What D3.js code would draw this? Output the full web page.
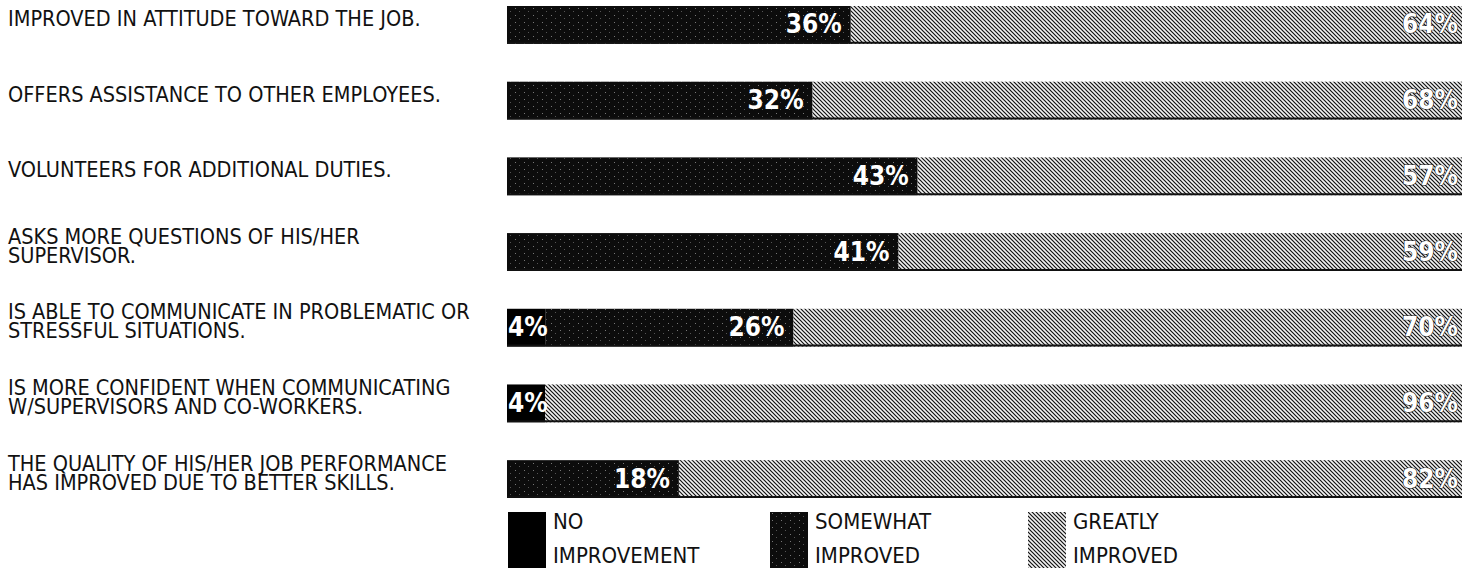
<!DOCTYPE html>
<html><head><meta charset="utf-8">
<script src="https://cdn.jsdelivr.net/npm/d3@7"></script>
<style>
html,body{margin:0;padding:0;background:#fff;}
svg text{font-family:"Liberation Sans Narrow","DejaVu Sans Condensed","Roboto",sans-serif;}
</style></head>
<body><svg id="chart" width="1466" height="575"></svg>
<script>
const categories = [
  ["IMPROVED IN ATTITUDE TOWARD THE JOB."],
  ["OFFERS ASSISTANCE TO OTHER EMPLOYEES."],
  ["VOLUNTEERS FOR ADDITIONAL DUTIES."],
  ["ASKS MORE QUESTIONS OF HIS/HER", "SUPERVISOR."],
  ["IS ABLE TO COMMUNICATE IN PROBLEMATIC OR", "STRESSFUL SITUATIONS."],
  ["IS MORE CONFIDENT WHEN COMMUNICATING", "W/SUPERVISORS AND CO-WORKERS."],
  ["THE QUALITY OF HIS/HER JOB PERFORMANCE", "HAS IMPROVED DUE TO BETTER SKILLS."]
];
const noImprovement    = [0, 0, 0, 0, 4, 4, 0];
const somewhatImproved = [36, 32, 43, 41, 26, 0, 18];
const greatlyImproved  = [64, 68, 57, 59, 70, 96, 82];
const seriesNames = [["NO", "IMPROVEMENT"], ["SOMEWHAT", "IMPROVED"], ["GREATLY", "IMPROVED"]];

const svg = d3.select("#chart");
const defs = svg.append("defs");

// patterns
const pG = defs.append("pattern").attr("id","pGreat").attr("patternUnits","userSpaceOnUse")
  .attr("width",4).attr("height",4);
pG.append("rect").attr("width",4).attr("height",4).attr("fill","#f2f2f2");
pG.append("path").attr("d","M0,0 L4,4 M3,-1 L5,1 M-1,3 L1,5").attr("stroke","#111").attr("stroke-width",1.2);
const pS = defs.append("pattern").attr("id","pSome").attr("patternUnits","userSpaceOnUse")
  .attr("width",9).attr("height",7);
pS.append("rect").attr("width",9).attr("height",7).attr("fill","#0c0c0c");
pS.append("rect").attr("x",2).attr("y",1).attr("width",1).attr("height",1).attr("fill","#777");
pS.append("rect").attr("x",6).attr("y",4).attr("width",1).attr("height",1).attr("fill","#555");
const fills = ["#000", "url(#pSome)", "url(#pGreat)"];

const x = d3.scaleLinear().domain([0,100]).range([507,1462]);
const y = d3.scaleBand().domain(d3.range(categories.length)).range([6, 498]).paddingInner(0.5).paddingOuter(0);

const rows = categories.map((c,i)=>{
  const vals = [noImprovement[i], somewhatImproved[i], greatlyImproved[i]];
  let acc = 0;
  return vals.map((v,k)=>{ const s = {row:i, k, v, x0:acc, x1:acc+v}; acc += v; return s; });
});
const segs = rows.flat();

const g = svg.append("g");
g.selectAll("rect.seg").data(segs.filter(d=>d.v>0)).join("rect")
  .attr("class","seg")
  .attr("x", d=>x(d.x0)).attr("width", d=>x(d.x1)-x(d.x0))
  .attr("y", d=>y(d.row)).attr("height", y.bandwidth())
  .attr("fill", d=>fills[d.k]);
g.selectAll("line.edge").data(d3.range(categories.length)).join("line")
  .attr("class","edge")
  .attr("x1", x(0)).attr("x2", x(100))
  .attr("y1", d=>y(d)+y.bandwidth()-1).attr("y2", d=>y(d)+y.bandwidth()-1)
  .attr("stroke","#111").attr("stroke-width",2);

// value labels
const narrow = d => (x(d.x1)-x(d.x0)) < 50;
g.selectAll("text.val").data(segs.filter(d=>d.v>0)).join("text")
  .attr("class","val")
  .attr("x", d=> narrow(d) ? x(d.x0)+1 : x(d.x1)-(d.k===2?4:9))
  .attr("y", d=>y(d.row)+y.bandwidth()/2+1)
  .attr("dominant-baseline","middle")
  .attr("text-anchor", d=> narrow(d) ? "start" : "end")
  .attr("font-size",26).attr("font-weight","bold")
  .attr("fill","#fff")
  .attr("stroke", d=>d.k===2?"#222":"none").attr("stroke-width",1.2).attr("paint-order","stroke")
  .text(d=>d.v+"%");

// category labels
const lh = 19;
const lab = svg.append("g").selectAll("text").data(categories).join("text")
  .attr("x", 8)
  .attr("y", (d,i)=> d.length===1 ? y(i)+y.bandwidth()/2-5 : y(i)+y.bandwidth()/2-5-lh/2)
  .attr("font-size",21.5).attr("fill","#111")
  .attr("dominant-baseline","middle");
lab.selectAll("tspan").data(d=>d).join("tspan")
  .attr("x",8).attr("dy",(d,j)=>j===0?0:lh).text(d=>d);

// legend
const legX = [508, 770, 1028];
const leg = svg.append("g").selectAll("g").data(seriesNames).join("g")
  .attr("transform",(d,i)=>`translate(${legX[i]},512)`);
leg.append("rect").attr("width",38).attr("height",56).attr("fill",(d,i)=>fills[i]);
leg.append("text").attr("x",45).attr("y",11).attr("font-size",22).attr("fill","#111")
  .attr("dominant-baseline","middle")
  .selectAll("tspan").data(d=>d).join("tspan").attr("x",45).attr("dy",(d,j)=>j===0?0:34).text(d=>d);
</script></body></html>
